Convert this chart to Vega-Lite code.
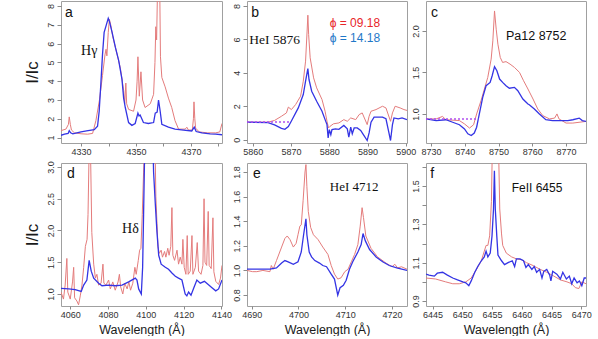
{
"$schema": "https://vega.github.io/schema/vega-lite/v6.json",
"padding": {"left": 22, "top": 0, "right": 4, "bottom": 0},
"background": "white",
"datasets": {
"A": [
{"x":4322.7,"y":1.37,"s":"r"},{"x":4324.5,"y":1.45,"s":"r"},{"x":4325.4,"y":1.7,"s":"r"},{"x":4325.7,"y":2.1,"s":"r"},{"x":4326.1,"y":1.7,"s":"r"},{"x":4326.5,"y":1.4,"s":"r"},{"x":4327.6,"y":1.25,"s":"r"},{"x":4330,"y":1.2,"s":"r"},{"x":4332.4,"y":1.18,"s":"r"},{"x":4334.2,"y":1.22,"s":"r"},{"x":4335.4,"y":1.9,"s":"r"},{"x":4336.7,"y":3.0,"s":"r"},{"x":4337.8,"y":4.3,"s":"r"},{"x":4338.7,"y":5.4,"s":"r"},{"x":4339.1,"y":5.7,"s":"r"},{"x":4339.4,"y":5.35,"s":"r"},{"x":4339.9,"y":6.6,"s":"r"},{"x":4340.3,"y":7.3,"s":"r"},{"x":4340.8,"y":7.0,"s":"r"},{"x":4341.5,"y":6.4,"s":"r"},{"x":4342.5,"y":5.8,"s":"r"},{"x":4343.5,"y":5.2,"s":"r"},{"x":4344.3,"y":4.7,"s":"r"},{"x":4345,"y":4.0,"s":"r"},{"x":4345.5,"y":3.5,"s":"r"},{"x":4345.9,"y":2.8,"s":"r"},{"x":4346.3,"y":3.9,"s":"r"},{"x":4346.6,"y":2.8,"s":"r"},{"x":4347.3,"y":2.5,"s":"r"},{"x":4349.1,"y":2.4,"s":"r"},{"x":4350,"y":3.0,"s":"r"},{"x":4350.4,"y":4.0,"s":"r"},{"x":4350.7,"y":5.3,"s":"r"},{"x":4351.2,"y":3.2,"s":"r"},{"x":4351.8,"y":4.5,"s":"r"},{"x":4352.4,"y":3.0,"s":"r"},{"x":4353.3,"y":2.6,"s":"r"},{"x":4355.2,"y":2.8,"s":"r"},{"x":4356.4,"y":3.3,"s":"r"},{"x":4356.9,"y":5.0,"s":"r"},{"x":4357.2,"y":6.9,"s":"r"},{"x":4357.5,"y":6.2,"s":"r"},{"x":4357.9,"y":9.5,"s":"r"},{"x":4358.6,"y":9.5,"s":"r"},{"x":4358.9,"y":5.3,"s":"r"},{"x":4359.4,"y":4.2,"s":"r"},{"x":4360.6,"y":3.7,"s":"r"},{"x":4361.8,"y":3.1,"s":"r"},{"x":4363,"y":2.6,"s":"r"},{"x":4364.2,"y":1.9,"s":"r"},{"x":4365.5,"y":1.45,"s":"r"},{"x":4367.9,"y":1.45,"s":"r"},{"x":4368.5,"y":1.55,"s":"r"},{"x":4369.1,"y":1.4,"s":"r"},{"x":4370.5,"y":1.4,"s":"r"},{"x":4370.9,"y":2.0,"s":"r"},{"x":4371.1,"y":2.9,"s":"r"},{"x":4371.4,"y":2.0,"s":"r"},{"x":4371.7,"y":1.5,"s":"r"},{"x":4373,"y":1.3,"s":"r"},{"x":4376,"y":1.25,"s":"r"},{"x":4379,"y":1.25,"s":"r"},{"x":4380.5,"y":1.3,"s":"r"},{"x":4381.3,"y":1.75,"s":"r"},
{"x":4322.7,"y":1.12,"s":"b"},{"x":4324,"y":1.18,"s":"b"},{"x":4325.3,"y":1.22,"s":"b"},{"x":4325.7,"y":1.37,"s":"b"},{"x":4326.2,"y":1.25,"s":"b"},{"x":4327,"y":1.2,"s":"b"},{"x":4330,"y":1.3,"s":"b"},{"x":4332,"y":1.35,"s":"b"},{"x":4334.8,"y":1.42,"s":"b"},{"x":4336,"y":1.6,"s":"b"},{"x":4336.6,"y":2.4,"s":"b"},{"x":4337.2,"y":3.85,"s":"b"},{"x":4337.8,"y":5.4,"s":"b"},{"x":4338.4,"y":6.6,"s":"b"},{"x":4339.2,"y":7.0,"s":"b"},{"x":4339.9,"y":7.35,"s":"b"},{"x":4340.3,"y":7.2,"s":"b"},{"x":4341.3,"y":6.6,"s":"b"},{"x":4342.5,"y":5.8,"s":"b"},{"x":4343.7,"y":5.1,"s":"b"},{"x":4344.9,"y":4.1,"s":"b"},{"x":4345.5,"y":3.1,"s":"b"},{"x":4346.1,"y":2.6,"s":"b"},{"x":4347.3,"y":1.8,"s":"b"},{"x":4348.5,"y":1.65,"s":"b"},{"x":4349.7,"y":1.75,"s":"b"},{"x":4350.7,"y":2.3,"s":"b"},{"x":4351.1,"y":2.15,"s":"b"},{"x":4351.5,"y":2.2,"s":"b"},{"x":4352.7,"y":1.8,"s":"b"},{"x":4354.5,"y":1.75,"s":"b"},{"x":4356.4,"y":1.8,"s":"b"},{"x":4357,"y":2.3,"s":"b"},{"x":4357.7,"y":2.35,"s":"b"},{"x":4358.2,"y":3.0,"s":"b"},{"x":4358.8,"y":2.4,"s":"b"},{"x":4359.4,"y":1.7,"s":"b"},{"x":4361.8,"y":1.55,"s":"b"},{"x":4364.2,"y":1.45,"s":"b"},{"x":4367.3,"y":1.4,"s":"b"},{"x":4370.3,"y":1.35,"s":"b"},{"x":4371.2,"y":1.55,"s":"b"},{"x":4371.9,"y":1.32,"s":"b"},{"x":4374,"y":1.25,"s":"b"},{"x":4377,"y":1.2,"s":"b"},{"x":4379,"y":1.18,"s":"b"},{"x":4381.3,"y":1.15,"s":"b"}
],
"B": [
{"x":5858.5,"y":1.05,"s":"r"},{"x":5864,"y":1.05,"s":"r"},{"x":5865.7,"y":1.15,"s":"r"},{"x":5867.5,"y":1.4,"s":"r"},{"x":5868.8,"y":1.6,"s":"r"},{"x":5869.3,"y":1.95,"s":"r"},{"x":5870.1,"y":1.8,"s":"r"},{"x":5871.2,"y":2.1,"s":"r"},{"x":5872.5,"y":2.6,"s":"r"},{"x":5873.2,"y":3.5,"s":"r"},{"x":5873.8,"y":4.7,"s":"r"},{"x":5874.2,"y":6.5,"s":"r"},{"x":5874.4,"y":7.45,"s":"r"},{"x":5874.6,"y":6.3,"s":"r"},{"x":5875,"y":4.9,"s":"r"},{"x":5875.9,"y":3.7,"s":"r"},{"x":5876.7,"y":3.1,"s":"r"},{"x":5878.1,"y":2.4,"s":"r"},{"x":5878.9,"y":1.7,"s":"r"},{"x":5879.4,"y":1.1,"s":"r"},{"x":5879.8,"y":0.7,"s":"r"},{"x":5880.2,"y":0.8,"s":"r"},{"x":5881.1,"y":0.95,"s":"r"},{"x":5882.5,"y":1.0,"s":"r"},{"x":5883.8,"y":1.2,"s":"r"},{"x":5884.7,"y":1.1,"s":"r"},{"x":5885.6,"y":1.3,"s":"r"},{"x":5886.9,"y":1.2,"s":"r"},{"x":5887.8,"y":1.5,"s":"r"},{"x":5888.6,"y":1.6,"s":"r"},{"x":5889.9,"y":0.9,"s":"r"},{"x":5890.4,"y":1.4,"s":"r"},{"x":5890.9,"y":1.7,"s":"r"},{"x":5892.2,"y":1.8,"s":"r"},{"x":5893.9,"y":2.0,"s":"r"},{"x":5894.8,"y":1.9,"s":"r"},{"x":5896,"y":1.1,"s":"r"},{"x":5896.5,"y":1.6,"s":"r"},{"x":5897.2,"y":2.0,"s":"r"},{"x":5898.5,"y":1.9,"s":"r"},{"x":5899.5,"y":1.8,"s":"r"},{"x":5900.3,"y":1.75,"s":"r"},
{"x":5858.5,"y":1.05,"s":"b"},{"x":5864,"y":1.02,"s":"b"},{"x":5865.7,"y":0.88,"s":"b"},{"x":5867.5,"y":0.68,"s":"b"},{"x":5868.4,"y":0.62,"s":"b"},{"x":5869.3,"y":0.78,"s":"b"},{"x":5870.1,"y":1.12,"s":"b"},{"x":5871.9,"y":1.9,"s":"b"},{"x":5873.2,"y":2.7,"s":"b"},{"x":5873.8,"y":3.5,"s":"b"},{"x":5874.4,"y":4.25,"s":"b"},{"x":5874.7,"y":3.6,"s":"b"},{"x":5875.4,"y":2.9,"s":"b"},{"x":5876.7,"y":2.3,"s":"b"},{"x":5878.1,"y":1.7,"s":"b"},{"x":5878.9,"y":1.2,"s":"b"},{"x":5879.4,"y":0.9,"s":"b"},{"x":5879.7,"y":0.1,"s":"b"},{"x":5880,"y":0.6,"s":"b"},{"x":5880.4,"y":0.3,"s":"b"},{"x":5880.7,"y":0.6,"s":"b"},{"x":5881.6,"y":0.65,"s":"b"},{"x":5882.5,"y":0.62,"s":"b"},{"x":5883.8,"y":0.85,"s":"b"},{"x":5884.7,"y":0.65,"s":"b"},{"x":5885.1,"y":0.15,"s":"b"},{"x":5885.6,"y":0.75,"s":"b"},{"x":5886,"y":0.35,"s":"b"},{"x":5886.5,"y":0.7,"s":"b"},{"x":5887.3,"y":0.7,"s":"b"},{"x":5888.2,"y":0.55,"s":"b"},{"x":5888.9,"y":0.3,"s":"b"},{"x":5889.9,"y":-0.05,"s":"b"},{"x":5890.4,"y":0.4,"s":"b"},{"x":5890.9,"y":1.05,"s":"b"},{"x":5891.7,"y":1.35,"s":"b"},{"x":5893.9,"y":1.35,"s":"b"},{"x":5894.8,"y":1.25,"s":"b"},{"x":5895.5,"y":0.5,"s":"b"},{"x":5896,"y":-0.05,"s":"b"},{"x":5896.5,"y":0.9,"s":"b"},{"x":5896.9,"y":1.3,"s":"b"},{"x":5898,"y":1.25,"s":"b"},{"x":5899,"y":1.3,"s":"b"},{"x":5900.3,"y":1.2,"s":"b"},
{"x":5858.5,"y":1.05,"s":"d"},{"x":5870,"y":1.05,"s":"d"}
],
"C": [
{"x":8728.5,"y":0.94,"s":"r"},{"x":8731.5,"y":0.94,"s":"r"},{"x":8733.4,"y":0.97,"s":"r"},{"x":8734.4,"y":0.93,"s":"r"},{"x":8738.4,"y":0.92,"s":"r"},{"x":8739.9,"y":0.88,"s":"r"},{"x":8741.4,"y":0.83,"s":"r"},{"x":8742.6,"y":0.87,"s":"r"},{"x":8743.5,"y":1.0,"s":"r"},{"x":8744.8,"y":1.16,"s":"r"},{"x":8745.8,"y":1.3,"s":"r"},{"x":8746.8,"y":1.44,"s":"r"},{"x":8747.8,"y":1.66,"s":"r"},{"x":8748.3,"y":1.88,"s":"r"},{"x":8748.8,"y":2.24,"s":"r"},{"x":8749.3,"y":2.02,"s":"r"},{"x":8749.8,"y":1.84,"s":"r"},{"x":8750.5,"y":1.68,"s":"r"},{"x":8751.2,"y":1.62,"s":"r"},{"x":8752.2,"y":1.63,"s":"r"},{"x":8753.4,"y":1.6,"s":"r"},{"x":8754.7,"y":1.56,"s":"r"},{"x":8756.2,"y":1.5,"s":"r"},{"x":8757.4,"y":1.4,"s":"r"},{"x":8758.7,"y":1.3,"s":"r"},{"x":8760.2,"y":1.18,"s":"r"},{"x":8761.6,"y":1.06,"s":"r"},{"x":8763.1,"y":0.98,"s":"r"},{"x":8765.1,"y":0.94,"s":"r"},{"x":8766.6,"y":0.95,"s":"r"},{"x":8767.3,"y":1.0,"s":"r"},{"x":8767.9,"y":0.94,"s":"r"},{"x":8770,"y":0.89,"s":"r"},{"x":8772,"y":0.89,"s":"r"},{"x":8775.9,"y":0.91,"s":"r"},
{"x":8728.5,"y":0.94,"s":"b"},{"x":8731.5,"y":0.92,"s":"b"},{"x":8734.4,"y":0.93,"s":"b"},{"x":8736.4,"y":0.9,"s":"b"},{"x":8738.4,"y":0.87,"s":"b"},{"x":8739.9,"y":0.82,"s":"b"},{"x":8740.9,"y":0.76,"s":"b"},{"x":8741.9,"y":0.74,"s":"b"},{"x":8742.8,"y":0.77,"s":"b"},{"x":8743.5,"y":0.84,"s":"b"},{"x":8744.3,"y":1.0,"s":"b"},{"x":8745.3,"y":1.2,"s":"b"},{"x":8746.3,"y":1.34,"s":"b"},{"x":8747.5,"y":1.38,"s":"b"},{"x":8748.1,"y":1.46,"s":"b"},{"x":8748.8,"y":1.57,"s":"b"},{"x":8749.5,"y":1.52,"s":"b"},{"x":8750.3,"y":1.42,"s":"b"},{"x":8751.2,"y":1.38,"s":"b"},{"x":8752.2,"y":1.34,"s":"b"},{"x":8753.2,"y":1.31,"s":"b"},{"x":8754.7,"y":1.32,"s":"b"},{"x":8755.7,"y":1.28,"s":"b"},{"x":8757.2,"y":1.18,"s":"b"},{"x":8758.7,"y":1.12,"s":"b"},{"x":8759.1,"y":1.11,"s":"b"},{"x":8760.6,"y":1.06,"s":"b"},{"x":8762.1,"y":1.0,"s":"b"},{"x":8764,"y":0.93,"s":"b"},{"x":8766,"y":0.92,"s":"b"},{"x":8769,"y":0.92,"s":"b"},{"x":8770.5,"y":0.92,"s":"b"},{"x":8772,"y":0.93,"s":"b"},{"x":8773.9,"y":0.95,"s":"b"},{"x":8774.8,"y":0.92,"s":"b"},{"x":8775.9,"y":0.91,"s":"b"},
{"x":8728.5,"y":0.94,"s":"d"},{"x":8744,"y":0.94,"s":"d"}
],
"D": [
{"x":4055.1,"y":1.03,"s":"r"},{"x":4056.4,"y":0.92,"s":"r"},{"x":4057.3,"y":1.14,"s":"r"},{"x":4058.2,"y":1.56,"s":"r"},{"x":4058.7,"y":1.03,"s":"r"},{"x":4060,"y":0.92,"s":"r"},{"x":4061.2,"y":1.19,"s":"r"},{"x":4061.8,"y":1.42,"s":"r"},{"x":4062.3,"y":0.94,"s":"r"},{"x":4063.5,"y":0.89,"s":"r"},{"x":4064.4,"y":0.83,"s":"r"},{"x":4065.3,"y":0.97,"s":"r"},{"x":4066.2,"y":1.14,"s":"r"},{"x":4067.1,"y":1.42,"s":"r"},{"x":4068,"y":1.75,"s":"r"},{"x":4068.9,"y":1.86,"s":"r"},{"x":4069.4,"y":2.25,"s":"r"},{"x":4070,"y":3.3,"s":"r"},{"x":4070.7,"y":3.3,"s":"r"},{"x":4071.4,"y":1.97,"s":"r"},{"x":4072.4,"y":1.47,"s":"r"},{"x":4073.3,"y":1.25,"s":"r"},{"x":4074.1,"y":1.31,"s":"r"},{"x":4075,"y":1.14,"s":"r"},{"x":4076.3,"y":1.17,"s":"r"},{"x":4077.3,"y":1.47,"s":"r"},{"x":4077.8,"y":1.17,"s":"r"},{"x":4078.9,"y":1.14,"s":"r"},{"x":4080.3,"y":1.22,"s":"r"},{"x":4081.2,"y":1.08,"s":"r"},{"x":4082.5,"y":1.19,"s":"r"},{"x":4083.8,"y":1.06,"s":"r"},{"x":4085.3,"y":1.19,"s":"r"},{"x":4086,"y":1.31,"s":"r"},{"x":4086.7,"y":1.11,"s":"r"},{"x":4087.8,"y":1.0,"s":"r"},{"x":4088.8,"y":1.17,"s":"r"},{"x":4090.1,"y":1.08,"s":"r"},{"x":4091,"y":1.19,"s":"r"},{"x":4091.9,"y":1.06,"s":"r"},{"x":4093.1,"y":1.17,"s":"r"},{"x":4094.2,"y":1.42,"s":"r"},{"x":4094.9,"y":1.31,"s":"r"},{"x":4096,"y":1.53,"s":"r"},{"x":4096.7,"y":1.69,"s":"r"},{"x":4097.4,"y":1.72,"s":"r"},{"x":4098.1,"y":2.25,"s":"r"},{"x":4098.8,"y":2.92,"s":"r"},{"x":4099.2,"y":3.3,"s":"r"},{"x":4104.9,"y":3.3,"s":"r"},{"x":4105.3,"y":2.53,"s":"r"},{"x":4105.9,"y":2.11,"s":"r"},{"x":4106.4,"y":1.75,"s":"r"},{"x":4107.1,"y":1.64,"s":"r"},{"x":4108.1,"y":1.69,"s":"r"},{"x":4108.8,"y":1.58,"s":"r"},{"x":4109.9,"y":1.67,"s":"r"},{"x":4110.6,"y":1.58,"s":"r"},{"x":4111.6,"y":1.72,"s":"r"},{"x":4112.3,"y":1.61,"s":"r"},{"x":4113.2,"y":1.75,"s":"r"},{"x":4113.8,"y":2.36,"s":"r"},{"x":4114.3,"y":1.61,"s":"r"},{"x":4115.2,"y":1.53,"s":"r"},{"x":4116.5,"y":1.69,"s":"r"},{"x":4117.3,"y":1.47,"s":"r"},{"x":4118.2,"y":1.58,"s":"r"},{"x":4119.1,"y":1.47,"s":"r"},{"x":4119.6,"y":1.86,"s":"r"},{"x":4120.3,"y":1.42,"s":"r"},{"x":4121.2,"y":1.31,"s":"r"},{"x":4121.9,"y":1.92,"s":"r"},{"x":4122.4,"y":1.31,"s":"r"},{"x":4123.5,"y":1.36,"s":"r"},{"x":4124.4,"y":1.92,"s":"r"},{"x":4124.9,"y":1.31,"s":"r"},{"x":4126.2,"y":1.42,"s":"r"},{"x":4127.2,"y":1.81,"s":"r"},{"x":4127.9,"y":1.36,"s":"r"},{"x":4129.2,"y":1.31,"s":"r"},{"x":4130.2,"y":1.45,"s":"r"},{"x":4130.8,"y":2.5,"s":"r"},{"x":4131.3,"y":1.5,"s":"r"},{"x":4132.2,"y":1.45,"s":"r"},{"x":4133,"y":2.3,"s":"r"},{"x":4133.5,"y":1.45,"s":"r"},{"x":4134.6,"y":1.4,"s":"r"},{"x":4135.5,"y":2.2,"s":"r"},{"x":4136,"y":1.35,"s":"r"},{"x":4137,"y":1.2,"s":"r"},{"x":4138.5,"y":1.15,"s":"r"},{"x":4139.5,"y":1.25,"s":"r"},{"x":4140.3,"y":1.45,"s":"r"},
{"x":4055.1,"y":1.09,"s":"b"},{"x":4059.2,"y":1.08,"s":"b"},{"x":4062.6,"y":1.07,"s":"b"},{"x":4065.8,"y":1.04,"s":"b"},{"x":4067.1,"y":1.14,"s":"b"},{"x":4068.8,"y":1.22,"s":"b"},{"x":4070,"y":1.53,"s":"b"},{"x":4071.1,"y":1.36,"s":"b"},{"x":4072.4,"y":1.25,"s":"b"},{"x":4075,"y":1.17,"s":"b"},{"x":4076.8,"y":1.13,"s":"b"},{"x":4080.3,"y":1.14,"s":"b"},{"x":4083.8,"y":1.13,"s":"b"},{"x":4087.4,"y":1.14,"s":"b"},{"x":4090.9,"y":1.19,"s":"b"},{"x":4094.4,"y":1.25,"s":"b"},{"x":4095.3,"y":1.22,"s":"b"},{"x":4096.2,"y":1.08,"s":"b"},{"x":4097.6,"y":1.0,"s":"b"},{"x":4098.3,"y":1.42,"s":"b"},{"x":4098.8,"y":2.25,"s":"b"},{"x":4099.4,"y":3.3,"s":"b"},{"x":4103.8,"y":3.3,"s":"b"},{"x":4104.1,"y":2.92,"s":"b"},{"x":4105,"y":2.42,"s":"b"},{"x":4105.9,"y":1.97,"s":"b"},{"x":4106.8,"y":1.61,"s":"b"},{"x":4108.1,"y":1.47,"s":"b"},{"x":4110.3,"y":1.42,"s":"b"},{"x":4112,"y":1.39,"s":"b"},{"x":4113.8,"y":1.33,"s":"b"},{"x":4115.6,"y":1.28,"s":"b"},{"x":4117.3,"y":1.25,"s":"b"},{"x":4119.1,"y":1.22,"s":"b"},{"x":4120.8,"y":1.0,"s":"b"},{"x":4121.7,"y":0.97,"s":"b"},{"x":4122.6,"y":1.03,"s":"b"},{"x":4123.9,"y":0.98,"s":"b"},{"x":4125.3,"y":1.09,"s":"b"},{"x":4127,"y":1.22,"s":"b"},{"x":4128.8,"y":1.17,"s":"b"},{"x":4131,"y":1.2,"s":"b"},{"x":4133,"y":1.15,"s":"b"},{"x":4135,"y":1.1,"s":"b"},{"x":4137,"y":1.05,"s":"b"},{"x":4138.5,"y":1.08,"s":"b"},{"x":4140.3,"y":1.22,"s":"b"}
],
"E": [
{"x":4689,"y":1.0,"s":"r"},{"x":4690.2,"y":0.99,"s":"r"},{"x":4691.1,"y":0.99,"s":"r"},{"x":4692.4,"y":1.0,"s":"r"},{"x":4693.9,"y":0.99,"s":"r"},{"x":4694.2,"y":1.04,"s":"r"},{"x":4694.6,"y":1.01,"s":"r"},{"x":4695.3,"y":1.08,"s":"r"},{"x":4696.4,"y":1.19,"s":"r"},{"x":4697.1,"y":1.26,"s":"r"},{"x":4697.6,"y":1.28,"s":"r"},{"x":4698.2,"y":1.25,"s":"r"},{"x":4698.9,"y":1.19,"s":"r"},{"x":4699.5,"y":1.22,"s":"r"},{"x":4699.9,"y":1.29,"s":"r"},{"x":4700.3,"y":1.36,"s":"r"},{"x":4700.6,"y":1.37,"s":"r"},{"x":4701,"y":1.57,"s":"r"},{"x":4701.4,"y":1.8,"s":"r"},{"x":4701.6,"y":1.86,"s":"r"},{"x":4701.8,"y":1.68,"s":"r"},{"x":4702.1,"y":1.48,"s":"r"},{"x":4702.6,"y":1.35,"s":"r"},{"x":4703.2,"y":1.29,"s":"r"},{"x":4704.2,"y":1.25,"s":"r"},{"x":4705.2,"y":1.19,"s":"r"},{"x":4706.3,"y":1.13,"s":"r"},{"x":4707,"y":1.04,"s":"r"},{"x":4707.7,"y":0.97,"s":"r"},{"x":4708.4,"y":0.93,"s":"r"},{"x":4709.1,"y":0.94,"s":"r"},{"x":4709.9,"y":0.99,"s":"r"},{"x":4710.6,"y":1.01,"s":"r"},{"x":4711.3,"y":1.07,"s":"r"},{"x":4712,"y":1.13,"s":"r"},{"x":4712.7,"y":1.21,"s":"r"},{"x":4713.2,"y":1.36,"s":"r"},{"x":4713.6,"y":1.51,"s":"r"},{"x":4713.9,"y":1.43,"s":"r"},{"x":4714.4,"y":1.28,"s":"r"},{"x":4715.5,"y":1.18,"s":"r"},{"x":4716.9,"y":1.11,"s":"r"},{"x":4718.7,"y":1.06,"s":"r"},{"x":4720,"y":1.03,"s":"r"},{"x":4720.6,"y":1.05,"s":"r"},{"x":4721.2,"y":1.02,"s":"r"},{"x":4722,"y":1.03,"s":"r"},{"x":4723.2,"y":1.01,"s":"r"},
{"x":4689,"y":1.01,"s":"b"},{"x":4691.1,"y":1.01,"s":"b"},{"x":4693.9,"y":1.01,"s":"b"},{"x":4695.3,"y":1.02,"s":"b"},{"x":4696.4,"y":1.06,"s":"b"},{"x":4697.1,"y":1.08,"s":"b"},{"x":4697.8,"y":1.07,"s":"b"},{"x":4698.9,"y":1.05,"s":"b"},{"x":4699.9,"y":1.07,"s":"b"},{"x":4700.6,"y":1.15,"s":"b"},{"x":4701.1,"y":1.29,"s":"b"},{"x":4701.6,"y":1.42,"s":"b"},{"x":4701.8,"y":1.29,"s":"b"},{"x":4702.3,"y":1.15,"s":"b"},{"x":4702.8,"y":1.11,"s":"b"},{"x":4703.5,"y":1.08,"s":"b"},{"x":4704.5,"y":1.06,"s":"b"},{"x":4705.2,"y":1.04,"s":"b"},{"x":4706,"y":1.03,"s":"b"},{"x":4707,"y":0.97,"s":"b"},{"x":4707.7,"y":0.93,"s":"b"},{"x":4708.4,"y":0.8,"s":"b"},{"x":4708.9,"y":0.86,"s":"b"},{"x":4709.6,"y":0.88,"s":"b"},{"x":4710.2,"y":0.92,"s":"b"},{"x":4710.9,"y":1.01,"s":"b"},{"x":4711.6,"y":1.07,"s":"b"},{"x":4712.7,"y":1.15,"s":"b"},{"x":4713.4,"y":1.21,"s":"b"},{"x":4713.8,"y":1.3,"s":"b"},{"x":4714.3,"y":1.24,"s":"b"},{"x":4715.2,"y":1.17,"s":"b"},{"x":4716.6,"y":1.11,"s":"b"},{"x":4718,"y":1.07,"s":"b"},{"x":4719.4,"y":1.04,"s":"b"},{"x":4721,"y":1.02,"s":"b"},{"x":4723.2,"y":1.0,"s":"b"}
],
"F": [
{"x":6443.9,"y":1.02,"s":"r"},{"x":6445.5,"y":1.015,"s":"r"},{"x":6447.2,"y":1.0,"s":"r"},{"x":6448.4,"y":0.99,"s":"r"},{"x":6449.5,"y":0.99,"s":"r"},{"x":6450.6,"y":1.0,"s":"r"},{"x":6451.5,"y":1.02,"s":"r"},{"x":6452.4,"y":1.065,"s":"r"},{"x":6453.2,"y":1.11,"s":"r"},{"x":6453.7,"y":1.16,"s":"r"},{"x":6454,"y":1.19,"s":"r"},{"x":6454.3,"y":1.19,"s":"r"},{"x":6454.6,"y":1.24,"s":"r"},{"x":6454.9,"y":1.42,"s":"r"},{"x":6455.05,"y":1.7,"s":"r"},{"x":6456.1,"y":1.7,"s":"r"},{"x":6456.3,"y":1.38,"s":"r"},{"x":6456.6,"y":1.25,"s":"r"},{"x":6456.8,"y":1.19,"s":"r"},{"x":6457.4,"y":1.15,"s":"r"},{"x":6458.3,"y":1.13,"s":"r"},{"x":6459.1,"y":1.12,"s":"r"},{"x":6460,"y":1.115,"s":"r"},{"x":6460.8,"y":1.1,"s":"r"},{"x":6461.9,"y":1.085,"s":"r"},{"x":6463.1,"y":1.065,"s":"r"},{"x":6464.2,"y":1.05,"s":"r"},{"x":6465.4,"y":1.03,"s":"r"},{"x":6466.5,"y":1.01,"s":"r"},{"x":6467.6,"y":1.0,"s":"r"},{"x":6468.4,"y":0.99,"s":"r"},{"x":6469,"y":0.97,"s":"r"},{"x":6469.6,"y":0.965,"s":"r"},{"x":6470.1,"y":1.0,"s":"r"},{"x":6470.8,"y":0.99,"s":"r"},
{"x":6443.9,"y":1.04,"s":"b"},{"x":6444.4,"y":1.035,"s":"b"},{"x":6445.3,"y":1.03,"s":"b"},{"x":6445.8,"y":1.045,"s":"b"},{"x":6446.7,"y":1.05,"s":"b"},{"x":6447.5,"y":1.035,"s":"b"},{"x":6448.4,"y":1.02,"s":"b"},{"x":6449.2,"y":1.01,"s":"b"},{"x":6450.1,"y":1.0,"s":"b"},{"x":6450.6,"y":0.995,"s":"b"},{"x":6451.1,"y":0.98,"s":"b"},{"x":6451.5,"y":1.005,"s":"b"},{"x":6452.1,"y":1.05,"s":"b"},{"x":6452.6,"y":1.08,"s":"b"},{"x":6453.2,"y":1.11,"s":"b"},{"x":6453.7,"y":1.13,"s":"b"},{"x":6454,"y":1.16,"s":"b"},{"x":6454.3,"y":1.13,"s":"b"},{"x":6454.7,"y":1.15,"s":"b"},{"x":6455,"y":1.24,"s":"b"},{"x":6455.25,"y":1.38,"s":"b"},{"x":6455.4,"y":1.58,"s":"b"},{"x":6455.55,"y":1.38,"s":"b"},{"x":6455.8,"y":1.24,"s":"b"},{"x":6456,"y":1.14,"s":"b"},{"x":6456.6,"y":1.11,"s":"b"},{"x":6457.1,"y":1.09,"s":"b"},{"x":6457.7,"y":1.1,"s":"b"},{"x":6458.4,"y":1.11,"s":"b"},{"x":6458.8,"y":1.08,"s":"b"},{"x":6459.1,"y":1.12,"s":"b"},{"x":6459.7,"y":1.12,"s":"b"},{"x":6460.3,"y":1.11,"s":"b"},{"x":6460.7,"y":1.075,"s":"b"},{"x":6461.1,"y":1.09,"s":"b"},{"x":6461.7,"y":1.065,"s":"b"},{"x":6462.1,"y":1.08,"s":"b"},{"x":6462.5,"y":1.05,"s":"b"},{"x":6463,"y":1.065,"s":"b"},{"x":6463.4,"y":1.02,"s":"b"},{"x":6463.7,"y":1.055,"s":"b"},{"x":6464.2,"y":1.065,"s":"b"},{"x":6464.7,"y":1.035,"s":"b"},{"x":6464.9,"y":1.005,"s":"b"},{"x":6465.2,"y":1.055,"s":"b"},{"x":6465.9,"y":1.04,"s":"b"},{"x":6466.5,"y":1.015,"s":"b"},{"x":6466.9,"y":1.05,"s":"b"},{"x":6467.5,"y":1.015,"s":"b"},{"x":6468,"y":1.03,"s":"b"},{"x":6468.4,"y":0.99,"s":"b"},{"x":6468.8,"y":1.02,"s":"b"},{"x":6469.3,"y":0.995,"s":"b"},{"x":6469.7,"y":1.005,"s":"b"},{"x":6470.1,"y":0.98,"s":"b"},{"x":6470.5,"y":1.02,"s":"b"},{"x":6470.8,"y":1.02,"s":"b"}
]
},
"vconcat": [
{"hconcat": [
 {"width": 161, "height": 142, "data": {"name": "A"},
  "encoding": {
   "x": {"field": "x", "type": "quantitative", "scale": {"domain": [4322.7, 4381.3], "nice": false, "zero": false}, "axis": {"values": [4330,4340,4350,4360,4370,4380], "format": "d", "labelExpr": "datum.value % 20 == 10 ? datum.label : ''", "title": null}},
   "y": {"field": "y", "type": "quantitative", "scale": {"domain": [0.71, 8.27], "nice": false, "zero": false}, "axis": {"values": [1,2,3,4,5,6,7,8], "format": "d", "title": "I/Ic"}}},
  "layer": [
   {"transform": [{"filter": "datum.s == 'r'"}], "mark": {"type": "line", "color": "#e47c7c", "strokeWidth": 1, "clip": true}, "encoding": {}},
   {"transform": [{"filter": "datum.s == 'b'"}], "mark": {"type": "line", "color": "#3434e4", "strokeWidth": 1.3, "clip": true}, "encoding": {}},
   {"data": {"values": [{"x": 4324.2, "y": 7.63, "t": "a"}]}, "mark": {"type": "text", "align": "left", "baseline": "middle", "font": "Liberation Sans", "fontSize": 14, "color": "#111"}, "encoding": {"text": {"field": "t"}}},
   {"data": {"values": [{"x": 4330, "y": 5.62, "t": "Hγ"}]}, "mark": {"type": "text", "align": "left", "baseline": "middle", "font": "Liberation Serif", "fontSize": 14, "color": "#111"}, "encoding": {"text": {"field": "t"}}}
  ]},
 {"hconcat": [
  {"width": 160, "height": 142, "data": {"name": "B"},
   "encoding": {
    "x": {"field": "x", "type": "quantitative", "scale": {"domain": [5858.5, 5900.3], "nice": false, "zero": false}, "axis": {"values": [5860,5870,5880,5890,5900], "format": "d", "title": null}},
    "y": {"field": "y", "type": "quantitative", "scale": {"domain": [-0.2, 8.3], "nice": false, "zero": false}, "axis": {"values": [0,2,4,6,8], "format": "d", "title": null}}},
   "layer": [
    {"transform": [{"filter": "datum.s == 'r'"}], "mark": {"type": "line", "color": "#e47c7c", "strokeWidth": 1, "clip": true}, "encoding": {}},
    {"transform": [{"filter": "datum.s == 'b'"}], "mark": {"type": "line", "color": "#3434e4", "strokeWidth": 1.3, "clip": true}, "encoding": {}},
    {"transform": [{"filter": "datum.s == 'd'"}], "mark": {"type": "line", "color": "#b050f0", "strokeWidth": 1.5, "strokeDash": [2, 2], "clip": true}, "encoding": {}},
    {"data": {"values": [{"x": 5859.6, "y": 7.6, "t": "b"}]}, "mark": {"type": "text", "align": "left", "baseline": "middle", "font": "Liberation Sans", "fontSize": 14, "color": "#111"}, "encoding": {"text": {"field": "t"}}},
    {"data": {"values": [{"x": 5859.1, "y": 5.95, "t": "HeI 5876"}]}, "mark": {"type": "text", "align": "left", "baseline": "middle", "font": "Liberation Serif", "fontSize": 13.5, "color": "#111"}, "encoding": {"text": {"field": "t"}}},
    {"data": {"values": [{"x": 5880.1, "y": 7.0, "t": "ϕ = 09.18"}]}, "mark": {"type": "text", "align": "left", "baseline": "middle", "font": "Liberation Sans", "fontSize": 12, "color": "#e8262a"}, "encoding": {"text": {"field": "t"}}},
    {"data": {"values": [{"x": 5880.1, "y": 6.07, "t": "ϕ = 14.18"}]}, "mark": {"type": "text", "align": "left", "baseline": "middle", "font": "Liberation Sans", "fontSize": 12, "color": "#1f78c8"}, "encoding": {"text": {"field": "t"}}}
   ]},
  {"width": 160, "height": 142, "data": {"name": "C"},
   "encoding": {
    "x": {"field": "x", "type": "quantitative", "scale": {"domain": [8728.5, 8775.9], "nice": false, "zero": false}, "axis": {"values": [8730,8740,8750,8760,8770], "format": "d", "title": null}},
    "y": {"field": "y", "type": "quantitative", "scale": {"domain": [0.65, 2.36], "nice": false, "zero": false}, "axis": {"values": [1.0,1.5,2.0], "format": ".1f", "title": null}}},
   "layer": [
    {"transform": [{"filter": "datum.s == 'r'"}], "mark": {"type": "line", "color": "#e47c7c", "strokeWidth": 1, "clip": true}, "encoding": {}},
    {"transform": [{"filter": "datum.s == 'b'"}], "mark": {"type": "line", "color": "#3434e4", "strokeWidth": 1.3, "clip": true}, "encoding": {}},
    {"transform": [{"filter": "datum.s == 'd'"}], "mark": {"type": "line", "color": "#b050f0", "strokeWidth": 1.5, "strokeDash": [2, 2], "clip": true}, "encoding": {}},
    {"data": {"values": [{"x": 8730, "y": 2.22, "t": "c"}]}, "mark": {"type": "text", "align": "left", "baseline": "middle", "font": "Liberation Sans", "fontSize": 14, "color": "#111"}, "encoding": {"text": {"field": "t"}}},
    {"data": {"values": [{"x": 8752.2, "y": 1.94, "t": "Pa12 8752"}]}, "mark": {"type": "text", "align": "left", "baseline": "middle", "font": "Liberation Sans", "fontSize": 12.5, "color": "#111"}, "encoding": {"text": {"field": "t"}}}
   ]}
 ], "spacing": 19, "bounds": "flush"}
], "spacing": 25, "bounds": "flush"},
{"hconcat": [
 {"width": 161, "height": 143, "data": {"name": "D"},
  "encoding": {
   "x": {"field": "x", "type": "quantitative", "scale": {"domain": [4055.1, 4140.3], "nice": false, "zero": false}, "axis": {"values": [4060,4080,4100,4120,4140], "format": "d", "title": "Wavelength (Å)"}},
   "y": {"field": "y", "type": "quantitative", "scale": {"domain": [0.811, 3.063], "nice": false, "zero": false}, "axis": {"values": [1.0,1.5,2.0,2.5,3.0], "format": ".1f", "title": "I/Ic"}}},
  "layer": [
   {"transform": [{"filter": "datum.s == 'r'"}], "mark": {"type": "line", "color": "#e47c7c", "strokeWidth": 1, "clip": true}, "encoding": {}},
   {"transform": [{"filter": "datum.s == 'b'"}], "mark": {"type": "line", "color": "#3434e4", "strokeWidth": 1.3, "clip": true}, "encoding": {}},
   {"data": {"values": [{"x": 4058.3, "y": 2.89, "t": "d"}]}, "mark": {"type": "text", "align": "left", "baseline": "middle", "font": "Liberation Sans", "fontSize": 14, "color": "#111"}, "encoding": {"text": {"field": "t"}}},
   {"data": {"values": [{"x": 4087.4, "y": 2.02, "t": "Hδ"}]}, "mark": {"type": "text", "align": "left", "baseline": "middle", "font": "Liberation Serif", "fontSize": 14, "color": "#111"}, "encoding": {"text": {"field": "t"}}}
  ]},
 {"hconcat": [
  {"width": 160, "height": 143, "data": {"name": "E"},
   "encoding": {
    "x": {"field": "x", "type": "quantitative", "scale": {"domain": [4689, 4723.2], "nice": false, "zero": false}, "axis": {"values": [4690,4700,4710,4720], "format": "d", "title": "Wavelength (Å)"}},
    "y": {"field": "y", "type": "quantitative", "scale": {"domain": [0.711, 1.873], "nice": false, "zero": false}, "axis": {"values": [0.8,1.0,1.2,1.4,1.6,1.8], "format": ".1f", "title": null}}},
   "layer": [
    {"transform": [{"filter": "datum.s == 'r'"}], "mark": {"type": "line", "color": "#e47c7c", "strokeWidth": 1, "clip": true}, "encoding": {}},
    {"transform": [{"filter": "datum.s == 'b'"}], "mark": {"type": "line", "color": "#3434e4", "strokeWidth": 1.3, "clip": true}, "encoding": {}},
    {"data": {"values": [{"x": 4690.3, "y": 1.784, "t": "e"}]}, "mark": {"type": "text", "align": "left", "baseline": "middle", "font": "Liberation Sans", "fontSize": 14, "color": "#111"}, "encoding": {"text": {"field": "t"}}},
    {"data": {"values": [{"x": 4706.7, "y": 1.675, "t": "HeI 4712"}]}, "mark": {"type": "text", "align": "left", "baseline": "middle", "font": "Liberation Serif", "fontSize": 13, "color": "#111"}, "encoding": {"text": {"field": "t"}}}
   ]},
  {"width": 160, "height": 143, "data": {"name": "F"},
   "encoding": {
    "x": {"field": "x", "type": "quantitative", "scale": {"domain": [6443.9, 6470.8], "nice": false, "zero": false}, "axis": {"values": [6445,6450,6455,6460,6465,6470], "format": "d", "title": "Wavelength (Å)"}},
    "y": {"field": "y", "type": "quantitative", "scale": {"domain": [0.874, 1.62], "nice": false, "zero": false}, "axis": {"values": [0.9,1.0,1.1,1.2,1.3,1.4,1.5,1.6], "format": ".1f", "labelExpr": "round(datum.value * 10) % 2 == 1 ? datum.label : ''", "title": null}}},
   "layer": [
    {"transform": [{"filter": "datum.s == 'r'"}], "mark": {"type": "line", "color": "#e47c7c", "strokeWidth": 1, "clip": true}, "encoding": {}},
    {"transform": [{"filter": "datum.s == 'b'"}], "mark": {"type": "line", "color": "#3434e4", "strokeWidth": 1.3, "clip": true}, "encoding": {}},
    {"data": {"values": [{"x": 6444.6, "y": 1.563, "t": "f"}]}, "mark": {"type": "text", "align": "left", "baseline": "middle", "font": "Liberation Sans", "fontSize": 14, "color": "#111"}, "encoding": {"text": {"field": "t"}}},
    {"data": {"values": [{"x": 6458.3, "y": 1.49, "t": "FeII 6455"}]}, "mark": {"type": "text", "align": "left", "baseline": "middle", "font": "Liberation Sans", "fontSize": 12, "color": "#111"}, "encoding": {"text": {"field": "t"}}}
   ]}
 ], "spacing": 19, "bounds": "flush"}
], "spacing": 25, "bounds": "flush"}
],
"spacing": 3,
"config": {
 "view": {"stroke": "#a0a0a0", "strokeWidth": 1},
 "axis": {"grid": false, "domain": false, "tickColor": "#8a8a8a", "tickSize": 4, "labelFont": "Liberation Sans", "labelFontSize": 9, "labelColor": "#333333", "labelPadding": 2, "labelFlush": false, "labelOverlap": false, "titleFont": "Liberation Sans", "titleFontWeight": "normal", "titleColor": "#1a1a1a"},
 "axisY": {"labelAngle": 270, "labelAlign": "center", "labelBaseline": "bottom", "titlePadding": 5, "titleFontSize": 17},
 "axisX": {"tickSize": 3, "labelPadding": 1, "titlePadding": 4, "titleFontSize": 12.5}
}
}
